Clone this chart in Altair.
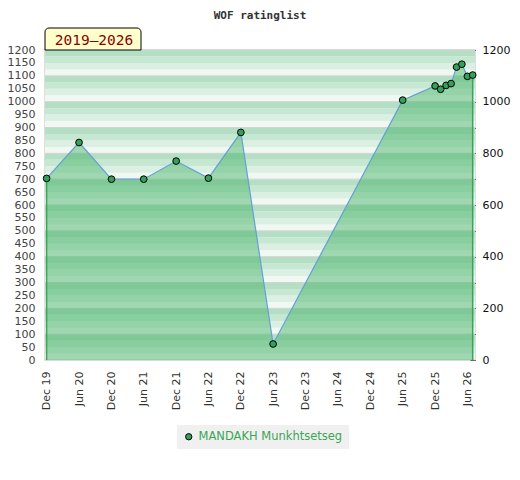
import altair as alt
import pandas as pd

# ---- data ----
dates = ["2019-12-01", "2020-06-01", "2020-12-01", "2021-06-01", "2021-12-01",
         "2022-06-01", "2022-12-01", "2023-06-01", "2025-06-01", "2025-12-01",
         "2026-01-01", "2026-02-01", "2026-03-01", "2026-04-01", "2026-05-01",
         "2026-06-01", "2026-07-01"]
ratings = [703, 842, 700, 700, 770, 704, 881, 62, 1006, 1061,
           1048, 1063, 1070, 1134, 1145, 1098, 1103]
player = "MANDAKH Munkhtsetseg"
period = "2019–2026"
title_text = "WOF ratinglist"
y_labels_left = list(range(0, 1201, 50))
y_ticks_right = list(range(0, 1201, 100))
x_tick_months = [(2019, 12), (2020, 6), (2020, 12), (2021, 6), (2021, 12),
                 (2022, 6), (2022, 12), (2023, 6), (2023, 12), (2024, 6),
                 (2024, 12), (2025, 6), (2025, 12), (2026, 6)]

W, H = 430, 310

df = pd.DataFrame({"date": dates, "rating": ratings, "player": player})
edges = df.iloc[[0, -1]].copy()
edges["base"] = 0

stripe_cols = ["#f0f8f2", "#dcefe3", "#c6e7d2", "#b4dfc5"]
rows = []
for b in y_ticks_right[:-1]:
    for k in range(4):
        rows.append({"y0": b + k * 25, "y1": b + (k + 1) * 25, "col": stripe_cols[k]})
stripes = pd.DataFrame(rows)
grid = pd.DataFrame({"v": y_ticks_right})
box = pd.DataFrame({"t": [period]})

yscale = alt.Scale(domain=[0, 1200], nice=False, zero=True)
xscale = alt.Scale(type="utc",
                   domain=[alt.DateTime(year=2019, month=11, date=22, utc=True),
                           alt.DateTime(year=2026, month=7, date=14, utc=True)])
xaxis = alt.Axis(values=[alt.DateTime(year=y, month=m, date=1, utc=True) for y, m in x_tick_months],
                 labelExpr="utcFormat(datum.value, '%b %y')", labelAngle=-90, ticks=False, tickSize=0,
                 domain=False, grid=False, labelPadding=11, labelColor="#333",
                 labelFontSize=11, title=None)
X = alt.X("date:T", scale=xscale, axis=xaxis)

left_axis = alt.Axis(values=y_labels_left, ticks=False, tickSize=0, domain=False, grid=False,
                     labelPadding=10, labelColor="#444", labelFontSize=11, title=None,
                     orient="left", format="d")
right_axis = alt.Axis(values=y_ticks_right, orient="right", ticks=True, tickSize=5,
                      tickColor="#000", offset=-5, domain=False, grid=False,
                      labelPadding=7, labelColor="#111", labelFontSize=11, title=None,
                      labelExpr="datum.value % 200 === 0 ? format(datum.value, 'd') : ''")

stripe_layer = alt.Chart(stripes).mark_rect().encode(
    x=alt.value(0), x2=alt.value(W),
    y=alt.Y("y0:Q", scale=yscale, axis=left_axis), y2="y1:Q",
    fill=alt.Fill("col:N", scale=None))

grid_layer = alt.Chart(grid).mark_rule(color="#d3d3d3", strokeWidth=1).encode(
    y=alt.Y("v:Q", scale=yscale, axis=right_axis))

area = alt.Chart(df).mark_area(color="#3caf60", opacity=0.45).encode(
    x=X, y=alt.Y("rating:Q", scale=yscale, axis=None))

edge_layer = alt.Chart(edges).mark_rule(color="#3aa655", strokeWidth=1.5).encode(
    x=X, y=alt.Y("base:Q", scale=yscale, axis=None), y2="rating:Q")

line = alt.Chart(df).mark_line(color="#64a0d8", strokeWidth=1.2).encode(
    x=X, y=alt.Y("rating:Q", scale=yscale, axis=None))

points = alt.Chart(df).mark_circle(size=45, stroke="#000", strokeWidth=1, opacity=1).encode(
    x=X, y=alt.Y("rating:Q", scale=yscale, axis=None),
    color=alt.Color("player:N", scale=alt.Scale(range=["#35a05a"]),
                    legend=alt.Legend(title=None, orient="none", legendX=132, legendY=375,
                                      fillColor="#f0f0f0", padding=6,
                                      labelColor="#3aa655", labelFontSize=11.5,
                                      symbolType="circle", symbolSize=40,
                                      symbolStrokeColor="#000", symbolStrokeWidth=1)))

box_rect = alt.Chart(box).mark_rect(fill="#ffffcc", stroke="#000", strokeWidth=1,
                                    cornerRadiusTopLeft=4, cornerRadiusTopRight=4).encode(
    x=alt.value(0), x2=alt.value(96), y=alt.value(-22), y2=alt.value(0))
box_text = alt.Chart(box).mark_text(font="DejaVu Sans Mono", fontSize=14.5, color="#8b0000",
                                    align="center", baseline="alphabetic").encode(
    x=alt.value(49), y=alt.value(-5), text="t:N")

chart = alt.layer(stripe_layer, grid_layer, area, edge_layer, line, points, box_rect, box_text
).resolve_axis(y="independent").properties(
    width=W, height=H,
    autosize=alt.AutoSizeParams(type="none"),
    padding={"left": 37, "top": 42, "right": 37, "bottom": 110},
    title=alt.TitleParams(title_text, font="DejaVu Sans Mono", fontSize=11, fontWeight="bold",
                          color="#333", anchor="middle", offset=7)
).configure_view(stroke="#d3d3d3", strokeWidth=1.5).configure_axis(
    labelFont="DejaVu Sans").configure_legend(labelFont="DejaVu Sans")

chart.save("out.html", embed_options={"renderer": "svg", "actions": False})
